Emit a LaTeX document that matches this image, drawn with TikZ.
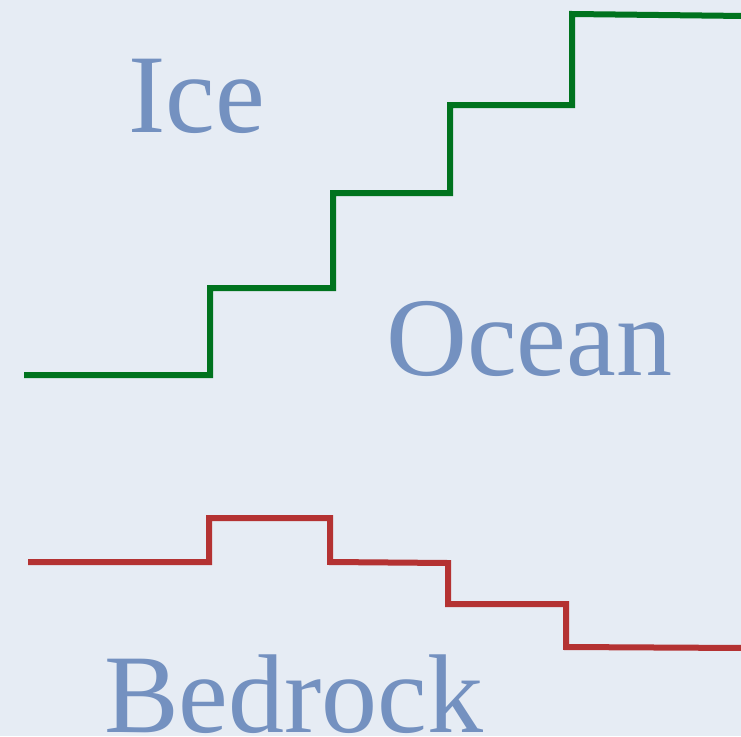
\documentclass[tikz,border=0pt]{standalone}
\usepackage{fontspec}
\setmainfont{Liberation Serif}
\definecolor{paper}{RGB}{230,236,244}
\definecolor{labelblue}{RGB}{116,145,192}
\definecolor{icegreen}{RGB}{0,115,30}
\definecolor{rockred}{RGB}{180,50,50}
\tikzset{
  label text/.style={text=labelblue, inner sep=0pt, font=\fontsize{112}{112}\selectfont},
  stair/.style={line width=6pt, line join=miter, line cap=butt}
}
\begin{document}
\begin{tikzpicture}[x=1pt,y=-1pt]
\fill[paper] (0,0) rectangle (741,736);
\useasboundingbox (0,0) rectangle (741,736);
\begin{scope}
\clip (0,0) rectangle (741,736);
\draw[stair, icegreen] (24,375) -- (210,375) -- (210,288) -- (333,288) -- (333,193) -- (450,193) -- (450,105) -- (572,105) -- (572,14) -- (745,16);
\draw[stair, rockred] (28,562) -- (209,562) -- (209,518) -- (330,518) -- (330,562) -- (448,563) -- (448,604) -- (566,604) -- (566,647) -- (745,648);
\node[label text, anchor=base west] (ice) at (128,132) {Ice};
\node[label text, anchor=base west] (ocean) at (386,375) {Ocean};
\node[label text, anchor=base west] (bedrock) at (104,732) {Bedrock};
\end{scope}
\end{tikzpicture}
\end{document}
